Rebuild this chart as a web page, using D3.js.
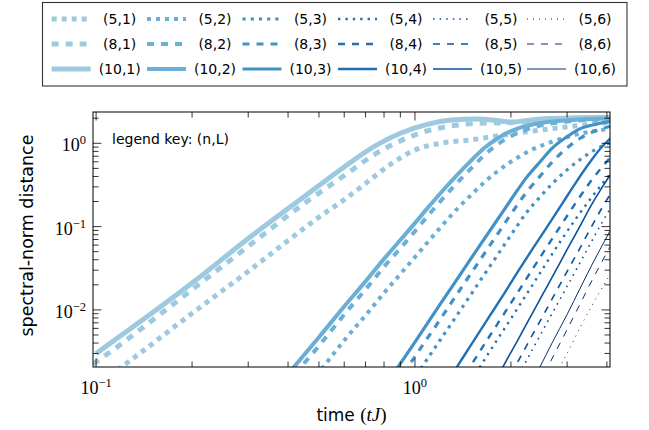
<!DOCTYPE html>
<html><head><meta charset="utf-8">
<script src="https://cdn.jsdelivr.net/npm/d3@7"></script>
<style>body{margin:0;background:#fff}</style>
</head><body>
<svg id="c" width="649" height="430"></svg>
<script>
// ---- data: [time tJ, spectral-norm distance] ----
const n10_L1 = [[0.1,0.0030],[0.2,0.021],[0.3,0.072],[0.45,0.23],[0.6,0.52],[0.75,0.93],[0.9,1.32],[1.1,1.7],[1.3,1.9],[1.55,1.96],[1.8,1.88],[2.0,1.8],[2.25,1.88],[2.6,1.98],[3.2,2.02],[4.1,2.05]];
const n8_L1  = [[0.09,0.0018],[0.1,0.00237],[0.2,0.0175],[0.3,0.058],[0.45,0.19],[0.6,0.41],[0.75,0.74],[0.9,1.07],[1.1,1.42],[1.35,1.65],[1.6,1.74],[1.9,1.76],[2.3,1.85],[3.0,1.97],[4.1,2.03]];
const n5_L1  = [[0.11,0.0016],[0.125,0.0023],[0.2,0.0091],[0.3,0.029],[0.4,0.068],[0.5,0.13],[0.6,0.21],[0.7,0.33],[0.85,0.58],[1.0,0.83],[1.2,1.0],[1.5,1.1],[2.0,1.3],[2.5,1.45],[3.2,1.62],[4.1,1.8]];
const n10_L2 = [[0.4,0.0017],[0.5,0.0047],[0.6,0.011],[0.7,0.022],[0.8,0.041],[0.9,0.069],[1.0,0.11],[1.1,0.17],[1.2,0.25],[1.35,0.41],[1.5,0.62],[1.65,0.88],[1.8,1.12],[2.0,1.4],[2.25,1.63],[2.6,1.8],[3.1,1.9],[4.1,1.98]];
const n8_L2  = [[0.42,0.0017],[0.5,0.0037],[0.6,0.0088],[0.7,0.0176],[0.8,0.033],[0.9,0.055],[1.0,0.088],[1.1,0.136],[1.2,0.2],[1.35,0.33],[1.5,0.5],[1.65,0.72],[1.8,0.95],[2.0,1.22],[2.25,1.48],[2.6,1.7],[3.1,1.85],[4.1,1.95]];
const n5_L2  = [[0.49,0.0016],[0.6,0.0043],[0.7,0.0086],[0.8,0.016],[0.9,0.027],[1.0,0.043],[1.1,0.066],[1.2,0.097],[1.35,0.16],[1.5,0.24],[1.65,0.34],[1.8,0.45],[2.0,0.6],[2.3,0.82],[2.7,1.05],[3.2,1.27],[4.1,1.5]];
const n10_L3 = [[0.8,0.0012],[0.8845,0.00206],[1.0,0.0041],[1.2,0.0117],[1.4,0.028],[1.6,0.06],[1.8,0.116],[2.0,0.21],[2.24,0.39],[2.45,0.58],[2.7,0.88],[3.0,1.2],[3.3,1.5],[3.7,1.7],[4.1,1.82]];
const n8_L3  = [[0.88,0.0012],[0.9507,0.00206],[1.0,0.00275],[1.2,0.0077],[1.4,0.0186],[1.6,0.0397],[1.8,0.0774],[2.0,0.141],[2.24,0.26],[2.45,0.39],[2.7,0.6],[3.0,0.88],[3.3,1.15],[3.7,1.42],[4.1,1.6]];
const n5_L3  = [[0.95,0.0011],[1.052,0.00206],[1.2,0.00435],[1.4,0.0104],[1.6,0.0223],[1.8,0.0435],[2.0,0.079],[2.24,0.148],[2.45,0.22],[2.7,0.33],[3.0,0.48],[3.3,0.64],[3.7,0.85],[4.1,1.02]];
const n10_L4 = [[1.3,0.0016],[1.354,0.00206],[1.5,0.0038],[1.7,0.008],[1.9,0.0155],[2.1,0.0286],[2.327,0.0525],[2.6,0.1],[2.9,0.19],[3.2,0.34],[3.5,0.56],[3.8,0.85],[4.1,1.15]];
const n8_L4  = [[1.44,0.0017],[1.487,0.00206],[1.7,0.0046],[1.9,0.0089],[2.1,0.0162],[2.327,0.03],[2.6,0.058],[2.9,0.11],[3.2,0.195],[3.5,0.32],[3.8,0.48],[4.1,0.68]];
const n5_L4  = [[1.55,0.0017],[1.599,0.00206],[1.7,0.003],[1.9,0.0058],[2.1,0.0105],[2.327,0.0194],[2.6,0.038],[2.9,0.072],[3.2,0.125],[3.5,0.2],[3.8,0.3],[4.1,0.43]];
const n10_L5 = [[1.84,0.0017],[1.887,0.00206],[2.1,0.0043],[2.3,0.0082],[2.5,0.0147],[2.75,0.0286],[2.996,0.0525],[3.3,0.103],[3.6,0.19],[3.85,0.29],[4.1,0.42]];
const n8_L5  = [[2.0,0.0017],[2.058,0.00206],[2.3,0.0045],[2.5,0.008],[2.75,0.0157],[2.996,0.0286],[3.3,0.056],[3.6,0.104],[3.85,0.165],[4.1,0.245]];
const n5_L5  = [[2.12,0.0017],[2.181,0.00206],[2.5,0.0054],[2.75,0.0105],[2.996,0.019],[3.3,0.0374],[3.6,0.069],[3.85,0.11],[4.1,0.165]];
const n10_L6 = [[2.4,0.0017],[2.465,0.00206],[2.7,0.0041],[3.0,0.0088],[3.3,0.0183],[3.6,0.0355],[3.8,0.0525],[4.1,0.09]];
const n8_L6  = [[2.55,0.0017],[2.612,0.00206],[3.0,0.0058],[3.3,0.0119],[3.6,0.023],[3.8,0.034],[4.1,0.058]];
const n5_L6  = [[2.78,0.0017],[2.848,0.00206],[3.0,0.003],[3.3,0.0062],[3.6,0.0115],[3.8,0.0165],[4.1,0.027]];

const nValues = [5, 8, 10];
const LValues = [1, 2, 3, 4, 5, 6];
const xMajorTicks = [0.1, 1];
const xTickExponents = ["\u22121", "0"];
const yMajorTicks = [0.01, 0.1, 1];
const yTickExponents = ["\u22122", "\u22121", "0"];
const xLabel = "time";
const yLabel = "spectral-norm distance";
const keyNote = "legend key: (n,L)";

const seriesData = {
  "5,1": n5_L1, "5,2": n5_L2, "5,3": n5_L3, "5,4": n5_L4, "5,5": n5_L5, "5,6": n5_L6,
  "8,1": n8_L1, "8,2": n8_L2, "8,3": n8_L3, "8,4": n8_L4, "8,5": n8_L5, "8,6": n8_L6,
  "10,1": n10_L1, "10,2": n10_L2, "10,3": n10_L3, "10,4": n10_L4, "10,5": n10_L5, "10,6": n10_L6
};

// ---- styles ----
const colorsL = ["#9ecae1", "#6baed6", "#4292c6", "#2171b5", "#08519c", "#08306b"];
const widthsL = [5, 4, 3.2, 2.4, 1.6, 1.0];
function dashFor(n, w) {
  if (n === 10) return null;
  if (n === 8) return "7,7";
  return w + ",5";
}

const svg = d3.select("#c");
const M = {left: 93, right: 610, top: 112, bottom: 367};
const x = d3.scaleLog().domain([0.0978, 4.09]).range([M.left, M.right]);
const y = d3.scaleLog().domain([0.002063, 2.376]).range([M.bottom, M.top]);

svg.append("defs").append("clipPath").attr("id", "clip")
  .append("rect").attr("x", M.left).attr("y", M.top)
  .attr("width", M.right - M.left).attr("height", M.bottom - M.top);

// lines
const line = d3.line().x(d => x(d[0])).y(d => y(d[1])).curve(d3.curveMonotoneX);
const gLines = svg.append("g").attr("clip-path", "url(#clip)");
LValues.forEach((L, li) => {
  nValues.slice().reverse().forEach(n => {
    const w = widthsL[li];
    gLines.append("path").datum(seriesData[n + "," + L])
      .attr("d", line).attr("fill", "none")
      .attr("stroke", colorsL[li]).attr("stroke-width", w)
      .attr("stroke-dasharray", dashFor(n, w));
  });
});

// frame
svg.append("rect").attr("x", M.left).attr("y", M.top)
  .attr("width", M.right - M.left).attr("height", M.bottom - M.top)
  .attr("fill", "none").attr("stroke", "#000").attr("stroke-width", 1);

// ticks (inside, mirrored)
const majLen = 8.5, minLen = 5.5;
function minorTicks(scale) {
  const [a, b] = scale.domain();
  const out = [];
  for (let e = Math.floor(Math.log10(a)); e <= Math.ceil(Math.log10(b)); e++) {
    for (let k = 2; k <= 9; k++) {
      const v = k * Math.pow(10, e);
      if (v >= a && v <= b) out.push(v);
    }
  }
  return out;
}
const gt = svg.append("g").attr("stroke", "#000").attr("stroke-width", 0.8);
[[xMajorTicks, majLen], [minorTicks(x), minLen]].forEach(([ticks, len]) => {
  ticks.forEach(t => {
    const px = x(t);
    gt.append("line").attr("x1", px).attr("x2", px).attr("y1", M.bottom).attr("y2", M.bottom - len);
    gt.append("line").attr("x1", px).attr("x2", px).attr("y1", M.top).attr("y2", M.top + len);
  });
});
[[yMajorTicks, majLen], [minorTicks(y), minLen]].forEach(([ticks, len]) => {
  ticks.forEach(t => {
    const py = y(t);
    gt.append("line").attr("y1", py).attr("y2", py).attr("x1", M.left).attr("x2", M.left + len);
    gt.append("line").attr("y1", py).attr("y2", py).attr("x1", M.right).attr("x2", M.right - len);
  });
});

// tick labels
const serif = "'Liberation Serif', 'DejaVu Serif', serif";
const sans = "'DejaVu Sans', sans-serif";
xMajorTicks.forEach((t, i) => {
  const tx = svg.append("text").attr("x", x(t)).attr("y", 394)
    .attr("text-anchor", "middle").attr("font-family", serif).attr("font-size", 18);
  tx.append("tspan").text("10");
  tx.append("tspan").attr("dy", -7).attr("font-size", 12.5).text(xTickExponents[i]);
});
yMajorTicks.forEach((t, i) => {
  const tx = svg.append("text").attr("x", 86).attr("y", y(t) + 8)
    .attr("text-anchor", "end").attr("font-family", serif).attr("font-size", 18);
  tx.append("tspan").text("10");
  tx.append("tspan").attr("dy", -7).attr("font-size", 12.5).text(yTickExponents[i]);
});

// axis labels
const xl = svg.append("text").attr("x", (M.left + M.right) / 2).attr("y", 421)
  .attr("text-anchor", "middle").attr("font-family", sans).attr("font-size", 17);
xl.append("tspan").text(xLabel + " ");
xl.append("tspan").attr("font-family", serif).attr("font-size", 19).text("(");
xl.append("tspan").attr("font-family", serif).attr("font-style", "italic").attr("font-size", 19).text("tJ");
xl.append("tspan").attr("font-family", serif).attr("font-size", 19).text(")");

svg.append("text").attr("transform", `translate(33,${(M.top + M.bottom) / 2 - 4}) rotate(-90)`)
  .attr("text-anchor", "middle").attr("font-family", sans).attr("font-size", 17.5)
  .text(yLabel);

svg.append("text").attr("x", 112).attr("y", 143.5).attr("font-family", sans)
  .attr("font-size", 14).text(keyNote);

// legend
svg.append("rect").attr("x", 42.5).attr("y", 2.5).attr("width", 584.5).attr("height", 83.5)
  .attr("fill", "#fff").attr("stroke", "#333").attr("stroke-width", 1.1);
const rowY = [19, 44, 69];
const colX = [51.7, 147, 242.5, 338, 433, 527];
nValues.forEach((n, ri) => {
  LValues.forEach((L, ci) => {
    const w = widthsL[ci];
    svg.append("line").attr("x1", colX[ci]).attr("x2", colX[ci] + 39)
      .attr("y1", rowY[ri]).attr("y2", rowY[ri])
      .attr("stroke", colorsL[ci]).attr("stroke-width", w)
      .attr("stroke-dasharray", dashFor(n, w));
    svg.append("text").attr("x", colX[ci] + 68).attr("y", rowY[ri] + 5)
      .attr("text-anchor", "middle").attr("font-family", sans).attr("font-size", 14)
      .text(`(${n},${L})`);
  });
});
</script>
</body></html>
